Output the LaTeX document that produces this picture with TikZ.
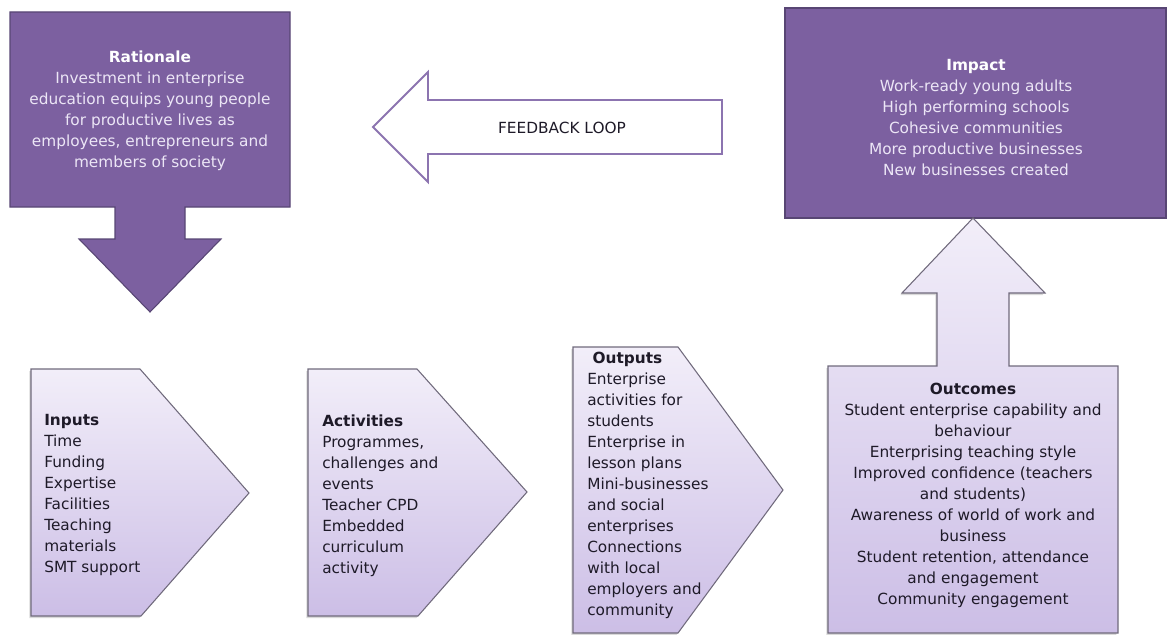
\documentclass[tikz,border=0pt]{standalone}
\usepackage{fontspec}
\setmainfont{DejaVu Sans}
\usetikzlibrary{shadows}
\definecolor{darkfill}{RGB}{124,96,160}
\definecolor{darkedge}{RGB}{88,70,116}
\definecolor{paletop}{RGB}{242,238,249}
\definecolor{palebottom}{RGB}{204,190,230}
\definecolor{paleedge}{RGB}{112,106,124}
\definecolor{loopedge}{RGB}{140,116,176}
\definecolor{lighttext}{RGB}{236,230,246}
\definecolor{inktext}{RGB}{30,26,40}
\tikzset{
	darkblock/.style={fill=darkfill, draw=darkedge, line width=0.8pt}, % the two dark purple blocks
	paleblock/.style={top color=paletop, bottom color=palebottom, draw=paleedge, line width=0.8pt,
		drop shadow={shadow xshift=-1.2pt, shadow yshift=-1.5pt, opacity=0.3}}, % the pale steps
	loopblock/.style={fill=white, draw=loopedge, line width=1.4pt}, % the hollow feedback arrow
	body/.style={inner sep=0pt, font=\fontsize{11.5}{15.75}\selectfont}, % common text look
	ontop/.style={body, text=lighttext, align=center}, % text on dark blocks
	onpale/.style={body, text=inktext}, % text on pale blocks
}
\begin{document}
\begin{tikzpicture}[x=0.75pt, y=-0.75pt]
	\useasboundingbox (0,0) rectangle (1168,635);
	% top row
	\draw[darkblock] (10,12) -- (290,12) -- (290,207) -- (185,207) -- (185,239) -- (221,239)
		-- (150,312) -- (79,239) -- (115,239) -- (115,207) -- (10,207) -- cycle;
	\node[ontop] (rationale) at (150,111) {\textbf{\color{white}Rationale}\\Investment in enterprise\\education equips young people\\for productive lives as\\employees, entrepreneurs and\\members of society};
	\draw[loopblock] (722,100) -- (428,100) -- (428,72) -- (373,127) -- (428,182) -- (428,154) -- (722,154) -- cycle;
	\node[body, text=inktext] (feedback) at (562,128) {FEEDBACK LOOP};
	\draw[darkblock] (785,8) rectangle (1166,218);
	\node[ontop] (impact) at (976,118) {\textbf{\color{white}Impact}\\Work-ready young adults\\High performing schools\\Cohesive communities\\More productive businesses\\New businesses created};
	% bottom row
	\draw[paleblock] (31,369) -- (140,369) -- (249,493) -- (141,616) -- (31,616) -- cycle;
	\node[onpale, align=left, anchor=west] (inputs) at (44,495) {\textbf{Inputs}\\Time\\Funding\\Expertise\\Facilities\\Teaching\\materials\\SMT support};
	\draw[paleblock] (308,369) -- (417,369) -- (527,492) -- (418,616) -- (308,616) -- cycle;
	\node[onpale, align=left, anchor=west] (activities) at (322,496) {\textbf{Activities}\\Programmes,\\challenges and\\events\\Teacher CPD\\Embedded\\curriculum\\activity};
	\draw[paleblock] (573,347) -- (678,347) -- (783,490) -- (678,633) -- (573,633) -- cycle;
	\node[onpale, align=left, anchor=west] (outputs) at (587,485) {\hspace*{4pt}\textbf{Outputs}\\Enterprise\\activities for\\students\\Enterprise in\\lesson plans\\Mini-businesses\\and social\\enterprises\\Connections\\with local\\employers and\\community};
	\draw[paleblock] (828,366) -- (937,366) -- (937,293) -- (902,293) -- (973,218) -- (1045,293)
		-- (1009,293) -- (1009,366) -- (1118,366) -- (1118,633) -- (828,633) -- cycle;
	\node[onpale, align=center] (outcomes) at (973,495) {\textbf{Outcomes}\\Student enterprise capability and\\behaviour\\Enterprising teaching style\\Improved confidence (teachers\\and students)\\Awareness of world of work and\\business\\Student retention, attendance\\and engagement\\Community engagement};
\end{tikzpicture}
\end{document}
